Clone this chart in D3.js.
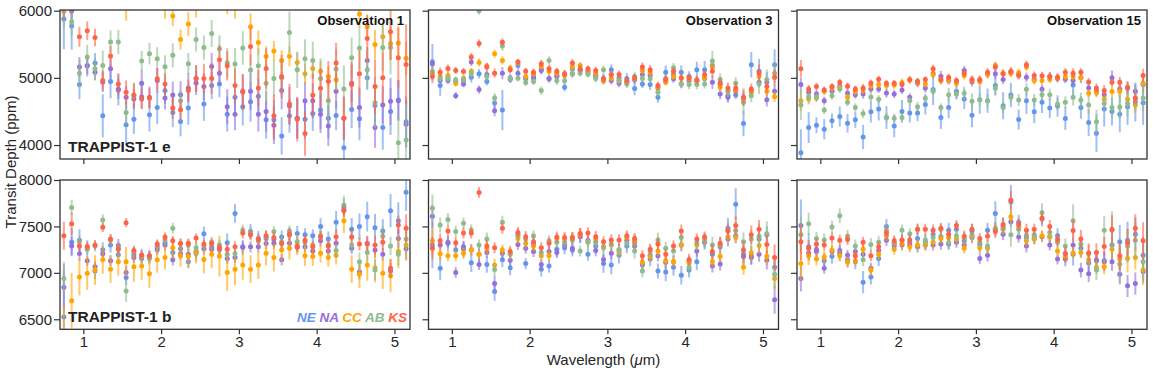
<!DOCTYPE html>
<html>
<head>
<meta charset="utf-8">
<script src="https://cdn.jsdelivr.net/npm/d3@7"></script>
<style>
  body { margin: 0; background: #ffffff; }
  svg { display: block; font-family: "Liberation Sans", Arial, sans-serif; }
</style>
</head>
<body>
<div id="chart"></div>
<script>
// wavelength bins (um)
var wavelengths = [0.75,0.85,0.95,1.05,1.15,1.25,1.35,1.45,1.55,1.65,1.75,1.85,1.95,2.05,2.15,
  2.25,2.35,2.45,2.55,2.65,2.75,2.85,2.95,3.05,3.15,3.25,3.35,3.45,3.55,3.65,
  3.75,3.85,3.95,4.05,4.15,4.25,4.35,4.45,4.55,4.65,4.75,4.85,4.95,5.05,5.15];

var teams = ["NE", "NA", "CC", "AB", "KS"];
var teamColors = ["#6495ED", "#9370DB", "#FFA500", "#8FBC8F", "#FF6347"];

var xTicks = [1, 2, 3, 4, 5];
var yTicksE = [4000, 5000, 6000];
var yTicksB = [6500, 7000, 7500, 8000];

// TRAPPIST-1 e, observation 1
var e1NE = [5875,5770,4900,5180,5220,4435,4945,4820,4300,4385,4720,4450,4560,4810,4485,
  4350,4550,4990,4610,4885,4910,4460,4710,4570,4645,4725,4375,4375,4135,4435,
  4395,4385,4470,4520,4400,4440,3960,4530,4390,5000,4590,4260,4500,4670,4345];
var e1NA = [6050,5995,5160,5185,5085,4940,5135,4835,4710,4685,4920,4710,4960,4700,4745,
  4750,4850,4925,4870,5170,5070,4570,4460,4800,4800,4460,4500,4295,4810,4585,
  4400,4660,4660,4460,4285,4800,4400,4920,4560,5260,4260,4595,4650,4660,4310];
var e1CC = [6150,6300,6400,6300,6500,6450,6350,6250,6050,6200,6300,6400,6350,6080,5920,
  5570,5800,6100,6300,6250,6400,6150,6080,6200,5760,5525,5320,5400,5260,5320,
  5230,5060,5140,5100,5020,4970,6200,6300,5950,5760,5495,5610,5510,5520,5290];
var e1AB = [5990,5835,5070,5310,5135,5185,5535,5535,4485,4735,5250,5360,5285,5165,5335,
  4660,5210,5570,5450,5660,5435,5225,5205,5445,5115,5180,4920,4990,5000,5675,
  5120,5285,5260,4990,4660,5130,4835,5300,5445,5120,4630,5450,5450,4035,4075];
var e1KS = [6100,6100,5610,5700,5600,4960,5325,4910,4785,4745,4685,4695,4985,4910,4550,
  4525,4810,4990,4990,4990,5270,5180,4885,4790,5465,4850,5140,4435,5020,4610,
  4385,4170,4740,4845,4950,5220,4400,4900,5060,5585,4870,5000,5685,5300,5200];
var e1NEerr = [450,350,220,160,150,320,250,230,300,220,180,250,250,200,220,
  220,250,200,250,200,200,260,250,280,300,260,280,300,280,250,
  300,300,260,280,300,220,400,280,320,180,300,330,350,300,380];
var e1NAerr = [200,180,150,130,120,150,160,150,170,150,200,160,180,170,200,
  200,220,180,200,200,180,260,240,250,280,260,300,280,280,280,
  300,280,260,280,300,260,320,280,300,200,300,280,350,300,350];
var e1CCerr = [200,200,200,200,200,200,200,200,200,200,200,200,200,200,150,
  150,180,200,200,200,200,200,200,200,200,180,150,150,150,150,
  150,150,150,150,150,160,200,200,200,180,220,220,250,250,250];
var e1ABerr = [250,220,200,180,170,220,170,180,170,180,150,160,170,170,180,
  150,160,180,180,200,200,220,240,250,230,260,280,270,250,310,
  270,290,280,300,330,300,350,300,320,280,380,350,400,400,600];
var e1KSerr = [200,150,150,140,130,150,150,160,180,180,150,150,160,160,160,
  150,160,200,220,230,220,220,250,270,280,270,300,320,320,300,
  330,330,320,300,300,300,320,340,350,350,400,380,420,450,600];

// TRAPPIST-1 e, observation 3
var e3NE = [5235,4885,5000,4950,4960,5010,5060,4945,4625,4520,5000,5185,4985,4990,5130,
  4990,5040,4860,5130,5120,5110,5020,4990,5120,5000,4990,4840,4910,4900,4710,
  5085,5050,5085,5020,5120,5120,5185,4900,4735,4745,4320,5195,5100,4935,5195];
var e3NA = [5210,4960,4960,4735,4910,5235,4825,5050,4510,5070,4975,5070,5010,5020,5110,
  4985,5020,5050,5060,5110,5080,5040,4960,4960,4920,4935,4970,5050,5040,4850,
  4960,4985,4910,4960,4950,4990,4935,4760,4710,4800,4700,4800,4935,4675,4800];
var e3CC = [5070,5020,5035,4920,4995,5100,5230,5175,5360,5260,5145,5225,5020,5060,5170,
  5095,5070,5035,5160,5185,5100,5070,4960,4995,4960,4940,4990,5110,5075,4860,
  4935,5020,4990,4985,4960,5000,5160,4860,4810,4820,4660,4785,5020,4800,4720];
var e3AB = [5095,4985,4990,4970,4975,5060,6000,5020,4700,5475,4990,4995,4930,4945,4810,
  5260,4955,4955,5065,5070,5055,4990,5120,5045,4960,4910,5020,4990,4985,4785,
  4990,5150,4910,4900,4900,4910,5250,4975,4795,4920,4635,4735,4910,4975,5070];
var e3KS = [5020,5085,5140,5110,5095,5310,5510,5160,5070,5530,5120,5235,5100,5085,5210,
  5135,5100,5060,5220,5135,5135,5110,4985,5050,5050,4960,5000,5160,5120,4885,
  4975,5100,5000,5000,4970,5050,5100,4925,4850,4850,4710,4835,5070,4870,5010];
var e3NEerr = [270,150,60,60,60,80,70,60,120,300,60,60,60,60,60,
  60,60,60,60,60,60,60,70,80,60,80,100,60,80,80,
  100,60,100,80,120,130,100,60,80,60,190,190,180,150,230];
var e3NAerr = [70,60,50,50,50,60,60,60,80,90,50,50,50,50,60,
  50,60,60,50,50,50,50,60,60,60,70,60,60,60,60,
  60,60,60,60,60,60,100,80,80,80,80,80,80,100,100];
var e3CCerr = [60,50,50,50,50,50,60,50,60,60,50,50,50,50,50,
  50,50,50,60,50,50,50,50,50,50,50,50,50,50,50,
  50,50,50,50,50,50,60,60,60,60,80,80,70,80,80];
var e3ABerr = [80,60,60,50,50,60,60,60,70,70,50,50,50,50,60,
  60,60,60,60,50,50,60,60,60,60,60,70,60,70,70,
  60,70,70,70,70,70,150,90,80,90,180,100,150,150,150];
var e3KSerr = [100,70,60,50,50,60,60,60,70,60,50,50,50,50,60,
  60,50,60,60,60,50,60,60,60,60,60,60,70,70,60,
  60,60,60,60,60,60,100,80,80,80,130,80,130,100,120];

// TRAPPIST-1 e, observation 15
var e15NE = [3885,4260,4295,4235,4360,4425,4325,4375,4120,4495,4535,4410,4285,4500,4475,
  4475,4605,4825,4410,4560,4800,4685,4445,4675,4660,4885,4585,4745,4380,4660,
  4495,4635,4550,4580,4395,4895,4560,4335,4175,4535,4500,4460,4570,4640,4630];
var e15NA = [4900,4785,4760,4660,4800,4880,4770,4750,4760,4835,4835,4775,4760,4820,4710,
  4920,4850,5060,5025,4960,4930,5110,4940,4960,5060,5060,4975,5080,5050,5010,
  4980,4830,5020,4990,4980,4960,5000,4850,4800,4750,5000,4835,4850,4800,4900];
var e15CC = [4660,4685,4700,4800,4850,4860,4710,4800,4820,4885,4900,4885,4895,4930,4970,
  4935,4910,5050,4960,4970,4920,5035,4960,4945,5050,5185,5070,5070,5075,5160,
  4960,4960,4980,5000,5020,5020,5000,4770,4780,4680,4795,4800,4680,4595,4920];
var e15AB = [4595,4720,4710,4520,4735,4835,4635,4560,4470,4715,4680,4410,4400,4410,4660,
  4570,4695,4800,4560,4750,4760,4770,4650,4675,4660,4845,4560,4710,4670,4830,
  4670,4750,4750,4610,4635,4710,4670,4595,4345,4620,4560,4565,4620,4700,4700];
var e15KS = [5135,4835,4870,4820,4870,4935,4875,4835,4850,4925,4980,4920,4920,4900,4970,
  4950,4975,5135,4975,5010,4960,5070,4975,4975,5085,5160,5060,5100,5035,5195,
  5035,5030,5020,5010,5085,5070,5085,4940,4850,4810,4935,4935,4860,4695,5035];
var e15NEerr = [350,230,120,150,110,150,140,120,180,160,170,170,170,170,140,
  120,150,230,170,160,120,150,180,210,180,150,200,180,150,200,
  170,160,150,160,170,200,170,200,280,260,210,270,270,290,330];
var e15NAerr = [100,80,60,60,60,60,60,60,70,60,60,70,60,60,60,
  60,70,60,80,60,60,70,70,60,60,80,70,60,60,70,
  60,70,70,60,60,60,80,70,70,70,110,110,100,100,100];
var e15CCerr = [150,80,60,60,60,60,60,60,60,60,60,60,60,60,60,
  60,60,60,60,60,60,60,60,60,60,60,60,60,60,60,
  60,60,60,60,60,60,60,60,70,70,80,90,100,120,150];
var e15ABerr = [220,100,60,60,60,60,60,60,70,60,60,70,60,60,60,
  70,60,60,60,100,70,100,120,100,100,90,80,80,90,90,
  90,80,90,90,90,120,110,140,180,110,150,180,190,190,200];
var e15KSerr = [130,60,60,50,50,50,60,50,60,50,50,50,50,50,50,
  50,50,60,60,50,50,60,60,60,60,60,60,60,60,60,
  60,60,60,60,60,70,60,60,70,80,60,80,80,90,100];

// TRAPPIST-1 b, observation 1
var b1NE = [6525,7330,7350,7270,7020,7250,7300,7195,6950,7200,7190,7180,7275,7325,7220,
  7260,7120,7210,7420,7280,7260,7325,7640,7275,7445,7370,7370,7360,7385,7410,
  7425,7410,7400,7500,7365,7545,7710,7470,7500,7605,7485,7450,7670,7560,7868];
var b1NA = [6845,7290,7207,7130,7065,7205,7130,7295,7005,7165,7155,7170,7250,7300,7140,
  7205,7200,7230,7260,7255,7255,7155,7165,7280,7280,7280,7315,7320,7140,7320,
  7275,7280,7235,7345,7235,7320,7680,7265,7010,7320,7245,7200,7020,7370,7260];
var b1CC = [6350,6700,6955,6995,7030,7140,7040,7120,7120,7065,7075,6990,7140,7165,7270,
  7185,7175,7220,7145,7200,7180,7005,7040,7085,7040,7085,7210,7165,7245,7265,
  7300,7185,7175,7210,7165,7190,7560,7040,6985,7085,7055,6995,6970,7230,7300];
var b1AB = [6940,7705,7335,7255,7290,7570,7355,7270,6805,7230,7170,7155,7290,7355,7480,
  7315,7300,7270,7290,7330,7300,7200,7205,7460,7430,7345,7390,7445,7335,7450,
  7335,7330,7300,7400,7300,7240,7730,7300,7120,7220,7030,7395,7290,7200,7365];
var b1KS = [7400,7530,7290,7285,7300,7490,7365,7255,7540,7240,7190,7185,7310,7385,7345,
  7315,7320,7375,7310,7320,7270,7255,7280,7430,7410,7360,7400,7380,7315,7415,
  7280,7350,7280,7390,7290,7390,7670,7385,7310,7310,7300,7330,7050,7515,7480];
var b1NEerr = [500,150,120,80,90,80,80,80,80,70,70,70,60,60,70,
  70,70,80,80,70,70,100,100,80,80,80,80,80,70,80,
  80,70,70,90,80,120,90,120,140,160,150,130,180,200,200];
var b1NAerr = [250,100,80,60,60,60,60,70,70,60,60,60,60,60,60,
  60,60,60,60,60,60,60,60,60,60,60,60,60,60,60,
  60,60,60,60,60,60,60,60,80,80,80,70,80,100,120];
var b1CCerr = [300,300,200,180,160,150,150,150,160,160,150,150,140,130,120,
  120,120,120,150,150,220,200,170,160,150,150,130,150,130,120,
  110,110,100,100,100,100,130,150,150,170,160,170,180,180,170];
var b1ABerr = [180,80,70,60,60,60,60,60,120,60,60,60,60,60,60,
  60,60,60,60,60,60,60,60,60,60,60,60,60,60,60,
  60,60,60,60,60,80,100,80,100,100,110,110,100,120,150];
var b1KSerr = [150,120,60,50,50,50,50,50,50,50,50,50,50,50,50,
  50,50,50,50,50,50,60,60,60,60,60,60,60,50,60,
  50,60,60,60,60,80,70,70,70,80,100,100,100,100,150];

// TRAPPIST-1 b, observation 3
var b3NE = [7300,7050,7320,7245,7255,7110,7200,7090,6800,7140,7055,7400,7100,7310,7040,
  7075,7255,7270,7245,7400,7200,7290,7100,7085,7190,7290,7330,7085,7150,7020,
  7010,7060,6975,7030,7120,7330,7200,7280,7480,7740,7200,7185,7365,7410,7060];
var b3NA = [7610,7300,7330,7005,7280,7250,7090,7220,6885,7210,7135,7305,7265,7230,7090,
  7230,7220,7300,7265,7390,7350,7240,7145,7210,7250,7350,7290,7100,7190,7185,
  7115,7120,7300,7120,7235,7335,7075,7095,7365,7400,7175,7165,7200,7135,6710];
var b3CC = [7345,7205,7185,7185,7210,7245,7200,7260,7085,7245,7210,7370,7320,7290,7185,
  7185,7370,7365,7380,7415,7330,7360,7280,7300,7220,7380,7345,7115,7175,7235,
  7130,7120,7305,7105,7300,7365,7120,7180,7390,7380,7060,7215,7295,7180,6940];
var b3AB = [7695,7515,7575,7445,7535,7460,7300,7365,7035,7545,7200,7415,7365,7400,7220,
  7345,7330,7330,7355,7235,7335,7330,7270,7310,7245,7320,7235,7020,7230,7355,
  7265,7235,7380,7060,7325,7345,7300,7300,7455,7455,7335,7365,7395,7425,6985];
var b3KS = [7265,7345,7450,7325,7430,7430,7865,7290,7270,7480,7230,7435,7390,7335,7270,
  7320,7385,7380,7380,7425,7430,7390,7335,7355,7355,7400,7370,7185,7255,7310,
  7200,7290,7450,7145,7365,7385,7230,7320,7450,7510,7245,7410,7470,7305,7165];
var b3NEerr = [250,130,80,70,90,100,80,90,100,80,80,70,60,70,80,
  70,80,70,70,80,70,80,100,100,90,80,80,70,80,80,
  100,90,100,80,90,80,80,90,110,170,100,90,80,90,100];
var b3NAerr = [120,80,60,60,60,60,60,60,80,70,60,60,60,60,60,
  60,60,60,60,60,60,60,60,60,60,60,60,60,60,60,
  80,70,70,60,60,60,70,70,80,80,100,80,80,100,150];
var b3CCerr = [150,80,60,60,60,60,60,60,70,60,60,60,60,60,60,
  60,60,60,60,60,60,60,60,60,60,60,60,60,60,60,
  60,60,60,60,60,60,60,60,60,60,80,80,90,100,120];
var b3ABerr = [150,80,70,60,60,60,60,70,70,70,60,60,60,60,60,
  60,60,60,70,60,70,60,70,70,70,70,80,70,70,80,
  70,70,80,70,70,80,90,90,100,100,100,100,130,130,150];
var b3KSerr = [120,80,60,60,60,60,60,60,60,60,60,60,60,60,60,
  60,60,60,60,60,60,60,60,60,60,60,60,60,60,70,
  60,60,70,60,60,60,80,70,80,100,100,100,100,100,140];

// TRAPPIST-1 b, observation 15
var b15NE = [7510,7280,7255,7130,7180,7210,7140,7120,6900,6955,7155,7500,7320,7350,7330,
  7370,7335,7415,7390,7460,7470,7345,7450,7305,7460,7640,7500,7765,7545,7380,
  7400,7580,7390,7400,7210,7200,7265,7105,7140,7130,7300,7335,7350,7415,7190];
var b15NA = [6940,7215,7230,7050,7230,7240,7190,7230,7200,7050,7240,7350,7290,7300,7300,
  7280,7300,7300,7310,7310,7330,7300,7380,7155,7190,7470,7415,7550,7385,7290,
  7370,7390,7300,7150,7150,7300,7030,6990,7130,7120,7120,6985,6860,6885,7015];
var b15CC = [7100,7185,7150,7170,7245,7185,7115,7130,7255,7030,7200,7400,7255,7315,7280,
  7300,7305,7330,7370,7380,7365,7265,7395,7270,7265,7470,7470,7605,7490,7345,
  7365,7400,7390,7235,7180,7215,7220,7140,7060,7065,7255,7150,7155,7165,7030];
var b15AB = [7410,7530,7370,7355,7495,7615,7395,7290,7140,7305,7330,7460,7320,7460,7420,
  7470,7355,7380,7470,7325,7400,7370,7410,7330,7290,7480,7480,7410,7470,7405,
  7410,7650,7435,7330,7290,7560,7310,7205,7030,7460,7460,7095,7290,7350,7120];
var b15KS = [7335,7265,7310,7300,7375,7350,7360,7185,7330,7185,7280,7430,7345,7355,7355,
  7470,7470,7460,7480,7415,7510,7395,7470,7370,7395,7445,7520,7785,7520,7460,
  7470,7590,7500,7360,7205,7455,7365,7215,7220,7285,7470,7185,7325,7480,7345];
var b15NEerr = [280,150,80,80,80,80,80,80,120,80,80,80,70,70,70,
  70,80,80,80,80,80,80,80,80,80,130,100,180,80,80,
  80,80,80,80,100,120,100,100,100,100,160,180,200,180,200];
var b15NAerr = [140,70,60,60,60,60,60,60,60,60,60,60,60,60,60,
  60,60,60,60,60,60,60,60,60,70,70,60,60,60,70,
  60,60,60,60,80,80,80,90,90,100,100,110,120,120,120];
var b15CCerr = [180,100,70,70,70,60,60,60,60,60,60,60,60,60,60,
  60,60,60,60,60,60,60,60,60,60,60,60,80,60,60,
  60,60,60,60,60,60,60,60,70,80,100,120,150,130,160];
var b15ABerr = [200,120,70,70,70,80,70,70,70,70,70,70,60,60,60,
  60,60,60,60,70,70,70,60,70,70,70,70,130,70,70,
  70,100,70,70,80,180,90,100,110,150,200,200,180,200,200];
var b15KSerr = [200,90,60,60,60,60,60,60,60,60,60,60,60,60,60,
  60,60,60,60,70,60,60,60,60,60,70,70,100,70,70,
  60,70,70,70,80,120,100,100,100,100,150,150,150,150,200];


var width = 1153,
    height = 373,
    panelW = 350;

var colLeft = [60, 428.5, 797],
    rowTop = [10, 180],
    rowBottom = [159, 329.3],
    yDomains = [[3792, 6010], [6392, 8000]],
    yTicks = [yTicksE, yTicksB];

var panels = [
  {row: 0, col: 0, title: "Observation 1",  vals: [e1NE, e1NA, e1CC, e1AB, e1KS],      errs: [e1NEerr, e1NAerr, e1CCerr, e1ABerr, e1KSerr]},
  {row: 0, col: 1, title: "Observation 3",  vals: [e3NE, e3NA, e3CC, e3AB, e3KS],      errs: [e3NEerr, e3NAerr, e3CCerr, e3ABerr, e3KSerr]},
  {row: 0, col: 2, title: "Observation 15", vals: [e15NE, e15NA, e15CC, e15AB, e15KS], errs: [e15NEerr, e15NAerr, e15CCerr, e15ABerr, e15KSerr]},
  {row: 1, col: 0, title: null, vals: [b1NE, b1NA, b1CC, b1AB, b1KS],      errs: [b1NEerr, b1NAerr, b1CCerr, b1ABerr, b1KSerr]},
  {row: 1, col: 1, title: null, vals: [b3NE, b3NA, b3CC, b3AB, b3KS],      errs: [b3NEerr, b3NAerr, b3CCerr, b3ABerr, b3KSerr]},
  {row: 1, col: 2, title: null, vals: [b15NE, b15NA, b15CC, b15AB, b15KS], errs: [b15NEerr, b15NAerr, b15CCerr, b15ABerr, b15KSerr]}
];

var svg = d3.select("#chart")
    .append("svg")
    .attr("width", width)
    .attr("height", height);

var frameColor = "#333333",
    textColor = "#262626";

panels.forEach(function(p, k) {
  var x0 = colLeft[p.col], x1 = x0 + panelW;
  var x = d3.scaleLinear().domain([0.7, 5.2]).range([x0, x1]);
  var y = d3.scaleLinear().domain(yDomains[p.row]).range([rowBottom[p.row], rowTop[p.row]]);

  var g = svg.append("g").attr("class", "panel");

  g.append("clipPath").attr("id", "clip" + k)
    .append("rect")
      .attr("x", x0).attr("y", rowTop[p.row])
      .attr("width", panelW).attr("height", rowBottom[p.row] - rowTop[p.row]);

  var plot = g.append("g").attr("clip-path", "url(#clip" + k + ")");

  teams.forEach(function(team, s) {
    var vals = p.vals[s], errs = p.errs[s];
    var sg = plot.append("g").attr("class", "series " + team);

    sg.selectAll("line")
      .data(wavelengths)
      .enter().append("line")
        .attr("x1", function(d) { return x(d); })
        .attr("x2", function(d) { return x(d); })
        .attr("y1", function(d, i) { return y(vals[i] - errs[i]); })
        .attr("y2", function(d, i) { return y(vals[i] + errs[i]); })
        .attr("stroke", teamColors[s])
        .attr("stroke-width", 2)
        .attr("stroke-opacity", 0.6);

    sg.selectAll("circle")
      .data(wavelengths)
      .enter().append("circle")
        .attr("cx", function(d) { return x(d); })
        .attr("cy", function(d, i) { return y(vals[i]); })
        .attr("r", 2.5)
        .attr("fill", teamColors[s]);
  });

  // axes
  var xAxis = d3.axisBottom(x).tickValues(xTicks).tickSize(5).tickPadding(2.5)
      .tickFormat(p.row === 0 ? "" : d3.format("d"));
  var xg = g.append("g")
      .attr("transform", "translate(0," + rowBottom[p.row] + ")")
      .call(xAxis);

  var yAxis = d3.axisLeft(y).tickValues(yTicks[p.row]).tickSize(6).tickPadding(2)
      .tickFormat(p.col > 0 ? "" : d3.format("d"));
  var yg = g.append("g")
      .attr("transform", "translate(" + x0 + ",0)")
      .call(yAxis);

  [xg, yg].forEach(function(ax) {
    ax.select(".domain").remove();
    ax.selectAll(".tick line").attr("stroke", frameColor).attr("stroke-width", 1.2);
    ax.selectAll(".tick text")
      .attr("fill", textColor)
      .style("font-size", "15px")
      .style("font-family", "'Liberation Sans', Arial, sans-serif");
  });

  g.append("rect")
    .attr("x", x0).attr("y", rowTop[p.row])
    .attr("width", panelW).attr("height", rowBottom[p.row] - rowTop[p.row])
    .attr("fill", "none")
    .attr("stroke", frameColor)
    .attr("stroke-width", 1.3);

  if (p.title) {
    g.append("text")
      .attr("x", x1 - 6)
      .attr("y", rowTop[p.row] + 15)
      .attr("text-anchor", "end")
      .attr("font-size", 13)
      .attr("font-weight", "bold")
      .attr("fill", "#111")
      .text(p.title);
  }
});

// planet labels
svg.append("text")
  .attr("x", 68).attr("y", 152)
  .attr("font-size", 15.5).attr("font-weight", "bold").attr("fill", "#222")
  .text("TRAPPIST-1 e");

svg.append("text")
  .attr("x", 68).attr("y", 321.5)
  .attr("font-size", 15.5).attr("font-weight", "bold").attr("fill", "#222")
  .text("TRAPPIST-1 b");

// team legend
var legend = svg.append("text")
  .attr("x", colLeft[0] + panelW - 3).attr("y", 321.7)
  .attr("text-anchor", "end")
  .attr("font-size", 13.5)
  .attr("font-weight", "bold")
  .attr("font-style", "italic");

teams.forEach(function(team, s) {
  legend.append("tspan")
    .attr("fill", teamColors[s])
    .text((s > 0 ? " " : "") + team);
});

// axis titles
svg.append("text")
  .attr("transform", "translate(15.5,162) rotate(-90)")
  .attr("text-anchor", "middle")
  .attr("font-size", 15)
  .attr("fill", textColor)
  .text("Transit Depth (ppm)");

var xl = svg.append("text")
  .attr("x", colLeft[1] + panelW / 2)
  .attr("y", 365)
  .attr("text-anchor", "middle")
  .attr("font-size", 15)
  .attr("fill", textColor);
xl.append("tspan").text("Wavelength (");
xl.append("tspan").attr("font-style", "italic").text("\u03bc");
xl.append("tspan").text("m)");
</script>
</body>
</html>
